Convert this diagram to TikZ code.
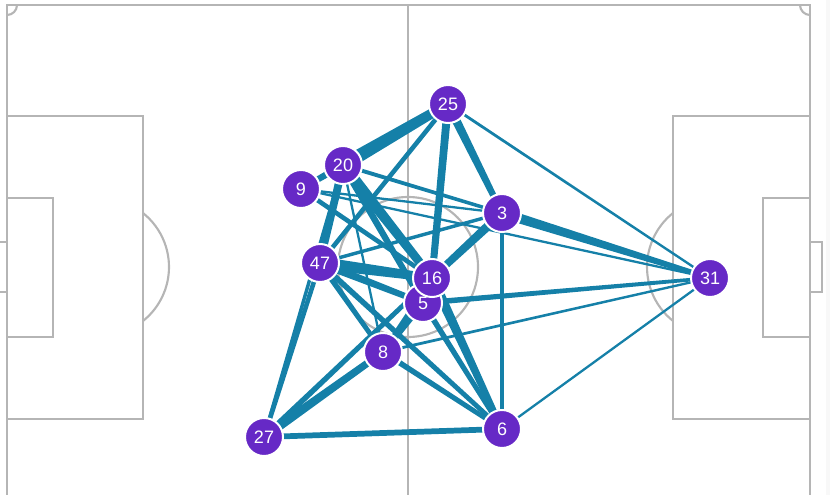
\documentclass[tikz,border=0pt]{standalone}
\usepackage{fontspec}
\setmainfont{Liberation Sans}
\usetikzlibrary{calc, backgrounds}
\definecolor{pitchline}{HTML}{B5B5B5}
\definecolor{passcol}{HTML}{1580A8}
\definecolor{plyfill}{HTML}{6629C6}
\definecolor{sidefill}{HTML}{F8F8F8}
\tikzset{
  pitch/.style={draw=pitchline, line width=1.6pt},
  ply/.style={circle, fill=plyfill, draw=white, line width=1.5pt, minimum size=28.5pt, inner sep=0pt, text=white, font=\fontsize{13.5}{15}\selectfont},
}
% tapered pass: from, to, width at from, width at to (px)
\newcommand\pass[4]{\fill[passcol] ($(#1.center)!{#3*0.43pt}!90:(#2.center)$) -- ($(#2.center)!{#4*0.43pt}!-90:(#1.center)$) -- ($(#2.center)!{#4*0.43pt}!90:(#1.center)$) -- ($(#1.center)!{#3*0.43pt}!-90:(#2.center)$) -- cycle;}

\begin{document}
\begin{tikzpicture}[x=0.75pt, y=-0.75pt]
  \useasboundingbox (0,0) rectangle (830,495);
  % players
  \node[ply] (p25) at (448,104) {25};
  \node[ply] (p20) at (343,165) {20};
  \node[ply] (p9)  at (301,189) {9};
  \node[ply] (p3)  at (502,213) {3};
  \node[ply] (p47) at (320,263) {47};
  \node[ply] (p5)  at (423,303) {5};
  \node[ply] (p16) at (432,278) {16};
  \node[ply] (p8)  at (383,352) {8};
  \node[ply] (p31) at (710,278) {31};
  \node[ply] (p27) at (264,437) {27};
  \node[ply] (p6)  at (502,429) {6};
  \begin{scope}[on background layer]
    % pitch
    \fill[sidefill] (826,0) rectangle (830,495);
    \draw[pitch] (7,495) -- (7,5) -- (810,5) -- (810,495);
    \draw[pitch] (408,5) -- (408,495);
    \draw[pitch] (408,267) circle[radius=70];
    \draw[pitch] (7,116) -- (143,116) -- (143,419) -- (7,419);
    \draw[pitch] (7,198) -- (53,198) -- (53,337) -- (7,337);
    \draw[pitch] (7,242) -- (0,242) (7,292) -- (0,292);
    \draw[pitch] (100,267) ++(-51.4:69) arc[start angle=-51.4, end angle=51.4, radius=69];
    \draw[pitch] (810,116) -- (673,116) -- (673,419) -- (810,419);
    \draw[pitch] (810,198) -- (763,198) -- (763,337) -- (810,337);
    \draw[pitch] (810,242) -- (822,242) -- (822,292) -- (810,292);
    \draw[pitch] (716,267) ++(128.6:69) arc[start angle=128.6, end angle=231.4, radius=69];
    \draw[pitch] (17,5) arc[start angle=0, end angle=90, radius=10];
    \draw[pitch] (800,5) arc[start angle=180, end angle=90, radius=10];
    % passes
    \pass{p20}{p25}{12}{8}
    \pass{p25}{p47}{4}{4}
    \pass{p25}{p16}{7}{6}
    \pass{p25}{p3}{8}{5}
    \pass{p25}{p31}{2.5}{2}
    \pass{p20}{p9}{6}{5}
    \pass{p20}{p47}{7}{6}
    \pass{p20}{p27}{3}{3}
    \pass{p20}{p16}{10}{7}
    \pass{p20}{p5}{6}{5}
    \pass{p20}{p3}{3.5}{3}
    \pass{p20}{p8}{2}{2}
    \pass{p9}{p3}{2}{2}
    \pass{p9}{p31}{2}{2}
    \pass{p9}{p16}{4}{4}
    \pass{p3}{p31}{9}{4}
    \pass{p3}{p6}{4}{4}
    \pass{p3}{p16}{8}{6}
    \pass{p3}{p47}{3}{3}
    \pass{p47}{p16}{11}{7}
    \pass{p47}{p5}{7}{5}
    \pass{p47}{p6}{5}{4}
    \pass{p47}{p8}{5}{4}
    \pass{p47}{p27}{4}{4}
    \pass{p16}{p6}{9}{5}
    \pass{p5}{p6}{5}{4}
    \pass{p5}{p31}{5}{3}
    \pass{p8}{p31}{2.5}{2}
    \pass{p6}{p31}{2}{2}
    \pass{p8}{p6}{5}{4}
    \pass{p27}{p8}{8}{6}
    \pass{p27}{p16}{5}{4}
    \pass{p27}{p6}{5}{5}
    \pass{p8}{p5}{6}{5}
    \pass{p8}{p16}{4}{4}
  \end{scope}
\end{tikzpicture}
\end{document}
